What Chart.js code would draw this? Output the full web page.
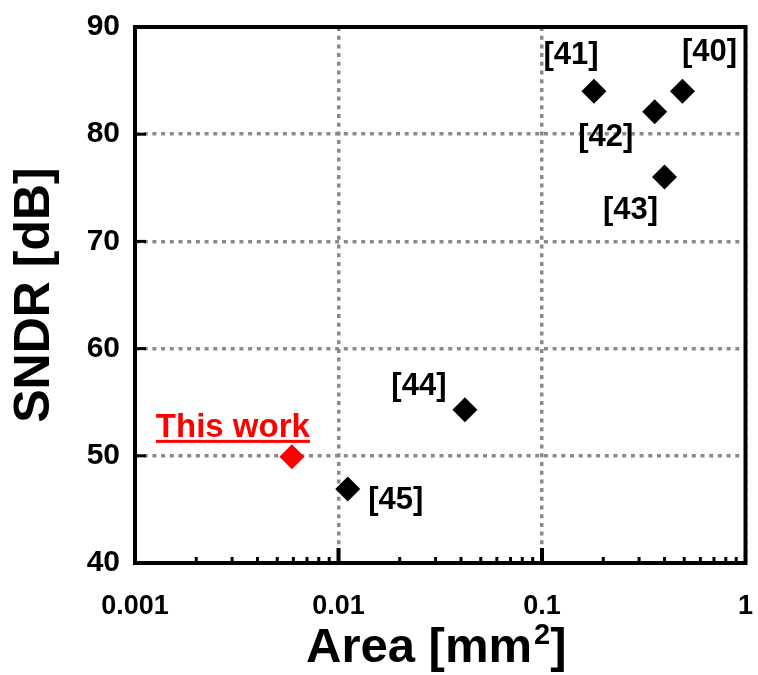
<!DOCTYPE html>
<html>
<head>
<meta charset="utf-8">
<script src="https://cdn.jsdelivr.net/npm/chart.js@4/dist/chart.umd.min.js"></script>
<style>
  html, body { margin: 0; padding: 0; background: #fff; }
  #wrap { width: 758px; height: 675px; }
</style>
</head>
<body>
<div id="wrap"><canvas id="c" width="758" height="675"></canvas></div>
<script>
// Published designs: area (mm^2) vs SNDR (dB)
const refLabels = ['[40]', '[41]', '[42]', '[43]', '[44]', '[45]'];
const refArea   = [0.49, 0.18, 0.358, 0.40, 0.0418, 0.0111];
const refSNDR   = [84, 84, 82.1, 76, 54.3, 46.9];

// This design
const workLabel = 'This work';
const workArea  = [0.0059];
const workSNDR  = [49.9];

// Axis ticks and titles
const xTicks    = [0.001, 0.01, 0.1, 1];
const xTickText = ['0.001', '0.01', '0.1', '1'];
const yTicks    = [40, 50, 60, 70, 80, 90];
const xTitle    = ['Area [mm', '2', ']'];   // base text, superscript, closing bracket
const yTitle    = 'SNDR [dB]';

// Label placement relative to each marker (px)
const refLabelOffsets = [[27, -39], [-23, -36], [-49, 26], [-34, 33], [-46, -23], [48, 11]];
const workLabelOffset = [-59, -29];

const FONT = '"Liberation Sans", Arial, Helvetica, sans-serif';
const GRID_GRAY = '#8a8a8a';

Chart.defaults.color = '#000';
Chart.defaults.font.family = FONT;

const toPoints = (xs, ys) => xs.map((x, i) => ({ x: x, y: ys[i] }));

// keep tick-label overhang from shrinking the plot area
const noEdgePadding = s => {
  s.paddingLeft = 0; s.paddingRight = 0; s.paddingTop = 0; s.paddingBottom = 0;
};

// Frame, inward tick marks, x title and annotations
const framePlugin = {
  id: 'frame',
  afterDatasetsDraw(chart) {
    const { ctx, chartArea: a, scales } = chart;
    const xs = scales.x, ys = scales.y;
    ctx.save();

    // minor ticks along the bottom edge
    ctx.strokeStyle = '#000';
    ctx.lineWidth = 3;
    for (let d = -3; d < 0; d++) {
      for (let k = 2; k <= 9; k++) {
        const px = xs.getPixelForValue(k * Math.pow(10, d));
        ctx.beginPath();
        ctx.moveTo(px, a.bottom);
        ctx.lineTo(px, a.bottom - 6);
        ctx.stroke();
      }
    }
    // major ticks along the bottom edge
    ctx.lineWidth = 4;
    xTicks.slice(1, -1).forEach(v => {
      const px = xs.getPixelForValue(v);
      ctx.beginPath();
      ctx.moveTo(px, a.bottom);
      ctx.lineTo(px, a.bottom - 15);
      ctx.stroke();
    });
    // ticks along the left edge
    ctx.lineWidth = 3;
    yTicks.slice(1, -1).forEach(v => {
      const py = ys.getPixelForValue(v);
      ctx.beginPath();
      ctx.moveTo(a.left, py);
      ctx.lineTo(a.left + 11, py);
      ctx.stroke();
    });

    // plot frame
    ctx.lineWidth = 4;
    ctx.strokeRect(a.left, a.top, a.right - a.left, a.bottom - a.top);

    // x axis title with superscript
    ctx.fillStyle = '#000';
    ctx.textBaseline = 'alphabetic';
    ctx.textAlign = 'left';
    const bigFont = 'bold 49px ' + FONT, supFont = 'bold 29px ' + FONT;
    ctx.font = bigFont;
    const w0 = ctx.measureText(xTitle[0]).width, w2 = ctx.measureText(xTitle[2]).width;
    ctx.font = supFont;
    const w1 = ctx.measureText(xTitle[1]).width;
    const total = w0 + 2 + w1 + w2;
    let tx = (a.left + a.right) / 2 - 4 - total / 2;
    const base = 662;
    ctx.font = bigFont;
    ctx.fillText(xTitle[0], tx, base);
    tx += w0 + 2;
    ctx.font = supFont;
    ctx.fillText(xTitle[1], tx, base - 18);
    tx += w1;
    ctx.font = bigFont;
    ctx.fillText(xTitle[2], tx, base);

    // reference labels
    ctx.textAlign = 'center';
    ctx.textBaseline = 'middle';
    ctx.font = 'bold 31px ' + FONT;
    const refMeta = chart.getDatasetMeta(0);
    refMeta.data.forEach((pt, i) => {
      const [dx, dy] = refLabelOffsets[i];
      ctx.fillText(refLabels[i], pt.x + dx, pt.y + dy);
    });

    // highlighted label with underline
    const wp = chart.getDatasetMeta(1).data[0];
    const wx = wp.x + workLabelOffset[0];
    const wy = wp.y + workLabelOffset[1];
    ctx.fillStyle = '#ff0000';
    ctx.font = 'bold 33px ' + FONT;
    ctx.fillText(workLabel, wx, wy);
    const tw = ctx.measureText(workLabel).width;
    ctx.fillRect(wx - tw / 2, wy + 12, tw, 3);

    ctx.restore();
  }
};

new Chart(document.getElementById('c'), {
  type: 'scatter',
  data: {
    datasets: [
      {
        label: 'References',
        data: toPoints(refArea, refSNDR),
        pointStyle: 'rectRot',
        pointRadius: 12.5,
        backgroundColor: '#000',
        borderWidth: 0
      },
      {
        label: workLabel,
        data: toPoints(workArea, workSNDR),
        pointStyle: 'rectRot',
        pointRadius: 12.5,
        backgroundColor: '#ff0000',
        borderWidth: 0
      }
    ]
  },
  options: {
    responsive: false,
    animation: false,
    devicePixelRatio: 1,
    events: [],
    layout: { padding: { top: 27, right: 11, left: 0, bottom: 0 } },
    plugins: { legend: { display: false }, tooltip: { enabled: false } },
    scales: {
      x: {
        type: 'logarithmic',
        min: 0.001,
        max: 1,
        afterBuildTicks: s => { s.ticks = xTicks.map(v => ({ value: v, major: true })); },
        afterFit: s => { s.height = 112; noEdgePadding(s); },
        ticks: {
          autoSkip: false,
          maxRotation: 0,
          padding: 27,
          font: { size: 27, weight: 'bold' },
          callback: (v, i) => xTickText[i]
        },
        grid: { color: GRID_GRAY, lineWidth: 3.5, drawTicks: false },
        border: { display: false, dash: [4, 4.7] },
        title: { display: false }
      },
      y: {
        min: 40,
        max: 90,
        afterBuildTicks: s => { s.ticks = yTicks.map(v => ({ value: v })); },
        afterFit: s => { s.width = 135; noEdgePadding(s); },
        ticks: {
          padding: 15,
          font: { size: 30, weight: 'bold' }
        },
        grid: { color: GRID_GRAY, lineWidth: 3.5, drawTicks: false },
        border: { display: false, dash: [4, 4.7] },
        title: {
          display: true,
          text: yTitle,
          font: { size: 50, weight: 'bold', lineHeight: 1 },
          padding: { top: 10, bottom: 0 }
        }
      }
    }
  },
  plugins: [framePlugin]
});
</script>
</body>
</html>
